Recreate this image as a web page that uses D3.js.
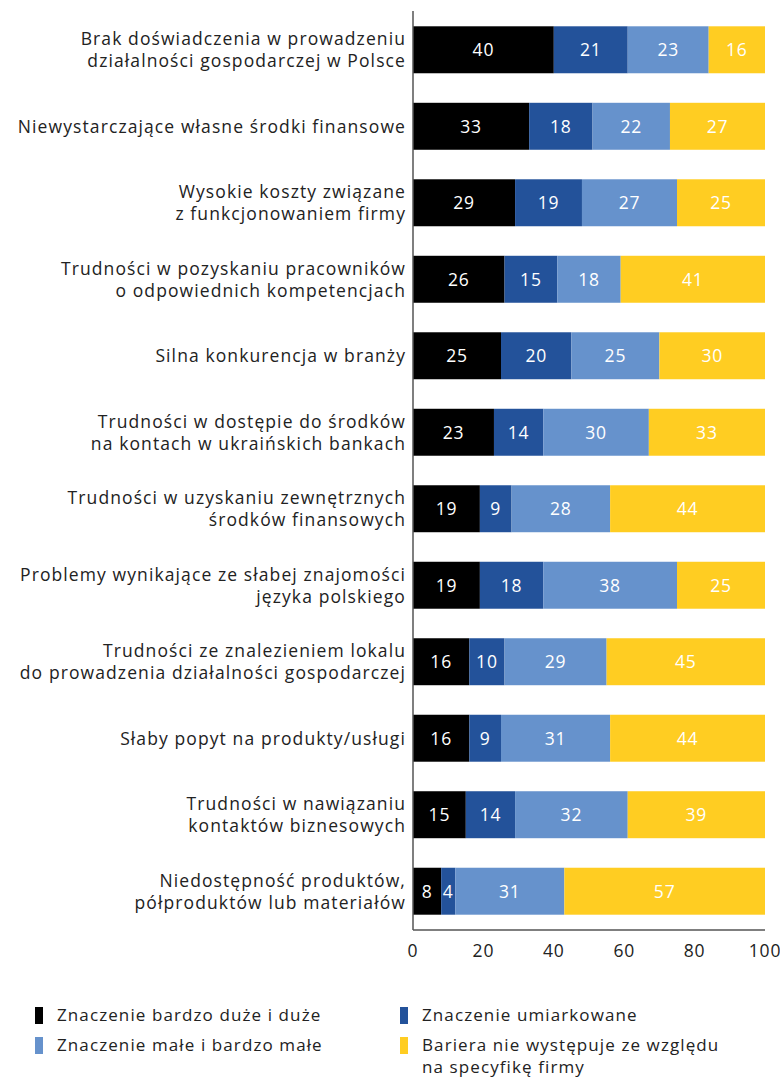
<!DOCTYPE html>
<html>
<head>
<meta charset="utf-8">
<script src="https://cdn.jsdelivr.net/npm/d3@7"></script>
<style>
  body { margin: 0; background: #fff; }
  text { font-family: "Open Sans", sans-serif; }
</style>
</head>
<body>
<div id="chart"></div>
<script>
var width = 780,
    height = 1077

var categories = [
  ["Brak doświadczenia w prowadzeniu", "działalności gospodarczej w Polsce"],
  ["Niewystarczające własne środki finansowe"],
  ["Wysokie koszty związane", "z funkcjonowaniem firmy"],
  ["Trudności w pozyskaniu pracowników", "o odpowiednich kompetencjach"],
  ["Silna konkurencja w branży"],
  ["Trudności w dostępie do środków", "na kontach w ukraińskich bankach"],
  ["Trudności w uzyskaniu zewnętrznych", "środków finansowych"],
  ["Problemy wynikające ze słabej znajomości", "języka polskiego"],
  ["Trudności ze znalezieniem lokalu", "do prowadzenia działalności gospodarczej"],
  ["Słaby popyt na produkty/usługi"],
  ["Trudności w nawiązaniu", "kontaktów biznesowych"],
  ["Niedostępność produktów,", "półproduktów lub materiałów"]
]

var seriesNames = [
  "Znaczenie bardzo duże i duże",
  "Znaczenie umiarkowane",
  "Znaczenie małe i bardzo małe",
  "Bariera nie występuje ze względu na specyfikę firmy"
]

var bardzoDuze = [40, 33, 29, 26, 25, 23, 19, 19, 16, 16, 15, 8]
var umiarkowane = [21, 18, 19, 15, 20, 14, 9, 18, 10, 9, 14, 4]
var male = [23, 22, 27, 18, 25, 30, 28, 38, 29, 31, 32, 31]
var brak = [16, 27, 25, 41, 30, 33, 44, 25, 45, 44, 39, 57]

var xTicks = [0, 20, 40, 60, 80, 100]

var colors = ["#000000", "#23529a", "#6692cc", "#ffcd22"]

var rows = categories.map(function(c, i) {
  return { id: i, label: c, s0: bardzoDuze[i], s1: umiarkowane[i], s2: male[i], s3: brak[i] }
})

var stack = d3.stack().keys(["s0", "s1", "s2", "s3"])
var stacked = stack(rows)

var svg = d3.select("#chart")
  .append("svg")
    .attr("width", width)
    .attr("height", height)

var x = d3.scaleLinear()
  .domain([0, 100])
  .range([413, 765])

var y = d3.scaleBand()
  .domain(rows.map(function(d) { return d.id }))
  .range([11, 930])
  .paddingInner(0.386)
  .paddingOuter(0.2)

// bars
var layers = svg.selectAll('g.layer')
  .data(stacked)
  .enter()
  .append('g')
    .attr('class', 'layer')
    .attr('fill', function(d, i) { return colors[i] })

layers.selectAll('rect')
  .data(function(d) { return d })
  .enter()
  .append('rect')
    .attr('x', function(d) { return x(d[0]) })
    .attr('y', function(d) { return y(d.data.id) })
    .attr('width', function(d) { return x(d[1]) - x(d[0]) })
    .attr('height', y.bandwidth())

layers.selectAll('text')
  .data(function(d) { return d })
  .enter()
  .append('text')
    .attr('x', function(d) { return (x(d[0]) + x(d[1])) / 2 })
    .attr('y', function(d) { return y(d.data.id) + y.bandwidth() / 2 })
    .attr('dy', '0.36em')
    .attr('text-anchor', 'middle')
    .attr('fill', 'white')
    .style('font-size', '17.5px')
    .style('letter-spacing', '0.8px')
    .text(function(d) { return d[1] - d[0] })

// axes
svg.append('line')
  .attr('x1', 413).attr('x2', 413)
  .attr('y1', 11).attr('y2', 930)
  .attr('stroke', '#555').attr('stroke-width', 1.5)

svg.append('line')
  .attr('x1', 413).attr('x2', 765)
  .attr('y1', 930).attr('y2', 930)
  .attr('stroke', '#555').attr('stroke-width', 1.5)

svg.selectAll('text.tick')
  .data(xTicks)
  .enter()
  .append('text')
    .attr('class', 'tick')
    .attr('x', function(d) { return x(d) })
    .attr('y', 957)
    .attr('text-anchor', 'middle')
    .attr('fill', '#222')
    .style('font-size', '17.5px')
    .style('letter-spacing', '0.8px')
    .text(function(d) { return d })

// category labels
var labels = svg.selectAll('text.cat')
  .data(rows)
  .enter()
  .append('text')
    .attr('class', 'cat')
    .attr('text-anchor', 'end')
    .attr('fill', '#222')
    .style('font-size', '17.5px')
    .style('letter-spacing', '1.1px')

labels.selectAll('tspan')
  .data(function(d) {
    return d.label.map(function(l, j) { return { text: l, j: j, n: d.label.length, id: d.id } })
  })
  .enter()
  .append('tspan')
    .attr('x', 406)
    .attr('y', function(d) {
      return y(d.id) + y.bandwidth() / 2 + (d.j - (d.n - 1) / 2) * 22
    })
    .attr('dy', '0.36em')
    .text(function(d) { return d.text })

// legend
var legendPos = [[35, 1015], [400, 1015], [35, 1045], [400, 1045]]

var legend = svg.selectAll('g.legend')
  .data(seriesNames)
  .enter()
  .append('g')
    .attr('class', 'legend')
    .attr('transform', function(d, i) { return 'translate(' + legendPos[i] + ')' })

legend.append('rect')
  .attr('x', 0).attr('y', -8)
  .attr('width', 8).attr('height', 17)
  .attr('fill', function(d, i) { return colors[i] })

legend.append('text')
  .attr('fill', '#222')
  .style('font-size', '17px')
  .style('letter-spacing', '1.1px')
  .each(function(d, i) {
    var t = d3.select(this)
    var lines = i == 3 ? ["Bariera nie występuje ze względu", "na specyfikę firmy"] : [d]
    lines.forEach(function(l, j) {
      t.append('tspan').attr('x', 22).attr('y', j * 22).attr('dy', '0.36em').text(l)
    })
  })
</script>
</body>
</html>
